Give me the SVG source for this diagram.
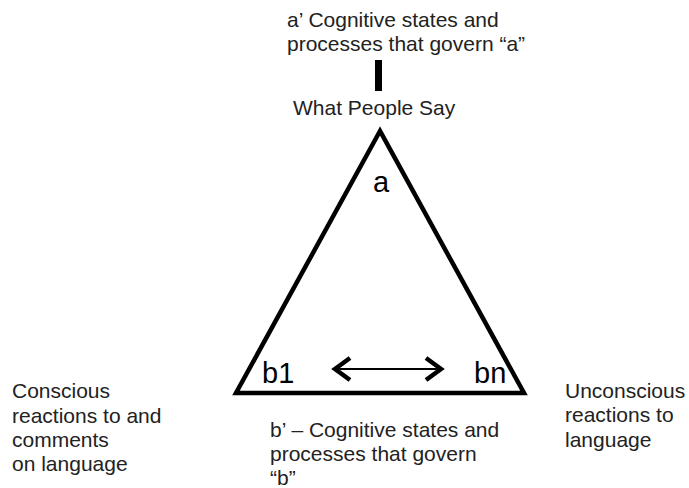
<svg xmlns="http://www.w3.org/2000/svg" width="689" height="488" viewBox="0 0 689 488">
<style>
text{font-family:"Liberation Sans",Arial,sans-serif;fill:#222;}
.t{font-size:21px;}
.big{font-size:29px;fill:#000;}
.edge{stroke:#000;fill:none;}
</style>
<rect width="689" height="488" fill="#fff"/>
<g id="top-label"><text class="t" x="287" y="27">a’ Cognitive states and</text><text class="t" x="287" y="51">processes that govern “a”</text></g>
<g id="what-people-say"><text class="t" x="293" y="115">What People Say</text></g>
<g id="triangle"><polygon points="380,131 236,393 524,393" fill="none" stroke="#000" stroke-width="4.5" stroke-linejoin="miter"/>
<text class="big" x="373" y="192">a</text>
<text class="big" x="262" y="383">b1</text>
<text class="big" x="474" y="383">bn</text></g>
<g id="left-label"><text class="t" x="12" y="398">Conscious</text><text class="t" x="12" y="423">reactions to and</text><text class="t" x="12" y="447">comments</text><text class="t" x="12" y="471">on language</text></g>
<g id="right-label"><text class="t" x="565" y="398">Unconscious</text><text class="t" x="565" y="422">reactions to</text><text class="t" x="565" y="447">language</text></g>
<g id="bottom-label"><text class="t" x="270" y="437">b’ – Cognitive states and</text><text class="t" x="270" y="461">processes that govern</text><text class="t" x="270" y="485">“b”</text></g>
<g id="connectors">
<line class="edge" x1="378.5" y1="60" x2="378.5" y2="91" stroke-width="7"/>
<line class="edge" x1="336" y1="369" x2="440" y2="369" stroke-width="2"/>
<polyline class="edge" points="350,358 335,369 350,380" stroke-width="4.5"/>
<polyline class="edge" points="426,358 441,369 426,380" stroke-width="4.5"/>
</g>
</svg>
